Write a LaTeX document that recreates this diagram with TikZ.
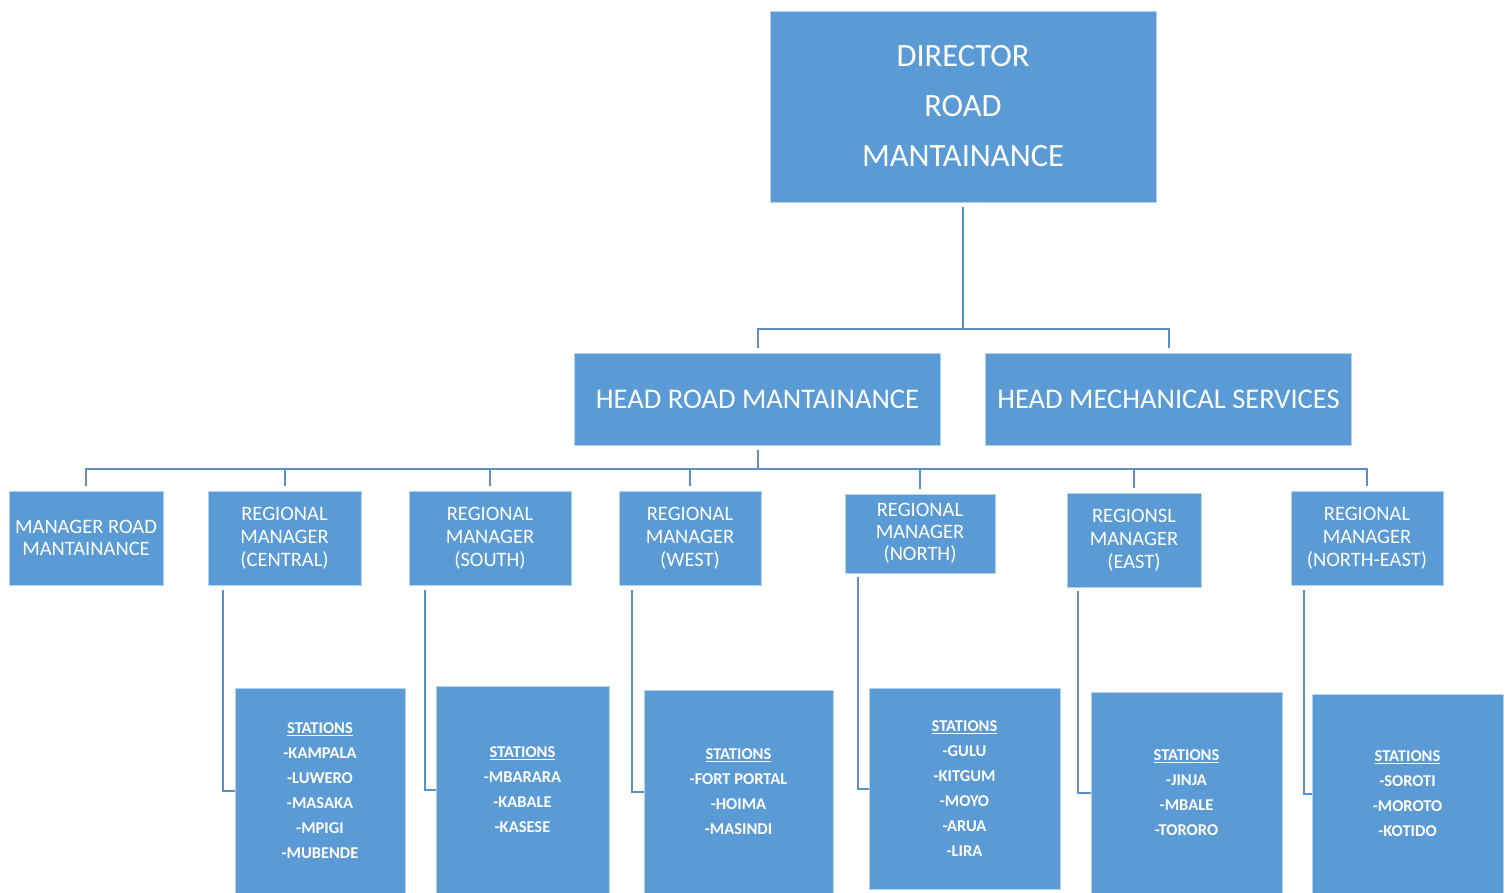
\documentclass[tikz,border=0pt]{standalone}
\usepackage{fontspec}
\setmainfont{Carlito}
\definecolor{boxblue}{HTML}{5B9BD5}
\definecolor{linecol}{HTML}{5A8FC8}
\begin{document}
\begin{tikzpicture}[x=1pt,y=-1pt,
  box/.style={fill=boxblue, draw=boxblue!45!white, line width=0.8pt, text=white, align=center, inner sep=0pt},
  conn/.style={draw=linecol, line width=2pt},
  topf/.style={font=\fontsize{32.5}{50}\selectfont},
  headf/.style={font=\fontsize{28.5}{30}\selectfont},
  mgrf/.style={font=\fontsize{20.5}{23}\selectfont},
  stf/.style={font=\bfseries\fontsize{16.5}{25}\selectfont}]
\useasboundingbox (0,0) rectangle (1508,893);

% top
\node[box, topf, minimum width=386pt, minimum height=191pt] (dir) at (963,106.5) {DIRECTOR\\ROAD\\MANTAINANCE};
\node[box, headf, minimum width=366pt, minimum height=92pt] (hrm) at (757.5,399) {HEAD ROAD MANTAINANCE};
\node[box, headf, minimum width=366pt, minimum height=92pt] (hms) at (1168.5,399) {HEAD MECHANICAL SERVICES};

% managers
\node[box, font=\fontsize{20.5}{22}\selectfont, minimum width=154pt, minimum height=94pt] (mrm) at (86,538) {MANAGER ROAD\\MANTAINANCE};
\node[box, mgrf, minimum width=153pt, minimum height=94pt] (rc) at (284.5,538) {REGIONAL\\MANAGER\\(CENTRAL)};
\node[box, mgrf, minimum width=162pt, minimum height=94pt] (rs) at (490,538) {REGIONAL\\MANAGER\\(SOUTH)};
\node[box, mgrf, minimum width=142pt, minimum height=94pt] (rw) at (690,538) {REGIONAL\\MANAGER\\(WEST)};
\node[box, font=\fontsize{20.5}{22}\selectfont, minimum width=150pt, minimum height=79pt] (rn) at (920,533.5) {REGIONAL\\MANAGER\\(NORTH)};
\node[box, mgrf, minimum width=134pt, minimum height=94pt] (re) at (1134,540) {REGIONSL\\MANAGER\\(EAST)};
\node[box, mgrf, minimum width=152pt, minimum height=94pt] (rne) at (1367,538) {REGIONAL\\MANAGER\\(NORTH-EAST)};

% stations
\node[box, stf, minimum width=170pt, minimum height=205pt] (sc) at (320,790.5) {\underline{STATIONS}\\-KAMPALA\\-LUWERO\\-MASAKA\\-MPIGI\\-MUBENDE};
\node[box, stf, minimum width=173pt, minimum height=207pt] (ss) at (522.5,789.5) {\underline{STATIONS}\\-MBARARA\\-KABALE\\-KASESE};
\node[box, stf, minimum width=189pt, minimum height=203pt] (sw) at (738.5,791.5) {\underline{STATIONS}\\-FORT PORTAL\\-HOIMA\\-MASINDI};
\node[box, stf, minimum width=191pt, minimum height=201pt] (sn) at (964.5,788.5) {\underline{STATIONS}\\-GULU\\-KITGUM\\-MOYO\\-ARUA\\-LIRA};
\node[box, stf, minimum width=191pt, minimum height=201pt] (se) at (1186.5,792.5) {\underline{STATIONS}\\-JINJA\\-MBALE\\-TORORO};
\node[box, stf, minimum width=191pt, minimum height=199pt] (sne) at (1407.5,793.5) {\underline{STATIONS}\\-SOROTI\\-MOROTO\\-KOTIDO};

% connectors top
\coordinate (tbus) at (dir.south |- 0,329);
\draw[conn, shorten <=5pt] (dir.south) -- (tbus);
\draw[conn, shorten >=5pt] (tbus) -| (hrm.north);
\draw[conn, shorten >=5pt] (tbus) -| (hms.north);

% connectors managers
\coordinate (mbus) at (hrm.south |- 0,469);
\draw[conn, shorten <=5pt] (hrm.south) -- (mbus);
\foreach \m in {mrm,rc,rs,rw,rn,re,rne}
  \draw[conn, shorten >=5pt] (mbus) -| (\m.north);

% connectors stations
\draw[conn, shorten <=5pt] ([xshift=15pt]rc.south west) |- (sc.west);
\draw[conn, shorten <=5pt] ([xshift=16pt]rs.south west) |- (ss.west);
\draw[conn, shorten <=5pt] ([xshift=13pt]rw.south west) |- (sw.west);
\draw[conn, shorten <=4pt] ([xshift=13pt]rn.south west) |- (sn.west);
\draw[conn, shorten <=4pt] ([xshift=11pt]re.south west) |- (se.west);
\draw[conn, shorten <=5pt] ([xshift=13pt]rne.south west) |- (sne.west);
\end{tikzpicture}
\end{document}
